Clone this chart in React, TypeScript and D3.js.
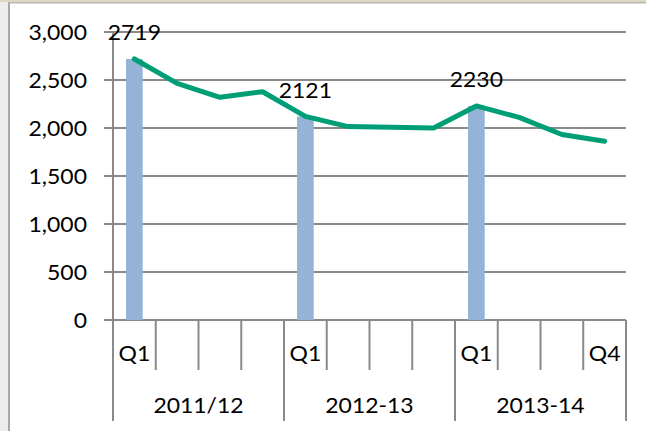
import React from "react";
import * as d3 from "d3";

const categories = ["Q1", "Q2", "Q3", "Q4", "Q1", "Q2", "Q3", "Q4", "Q1", "Q2", "Q3", "Q4"];
const quarterLabels = ["Q1", "", "", "", "Q1", "", "", "", "Q1", "", "", "Q4"];
const years = ["2011/12", "2012-13", "2013-14"];
const lineValues = [2719, 2465, 2320, 2378, 2121, 2015, 2008, 2000, 2230, 2110, 1932, 1862];
const barValues: (number | null)[] = [2719, null, null, null, 2121, null, null, null, 2230, null, null, null];
const yTicks = [0, 500, 1000, 1500, 2000, 2500, 3000];

const W = 646;
const H = 431;
const left = 113;
const right = 626;
const top = 32;
const bottom = 320;
const FONT = "Lato, 'Open Sans', sans-serif";
const FS = 20.5;
const SX = 1.12;
const GRID = "#8a8a8a";

function T({ x, y, children, anchor = "middle" }: any) {
  return (
    <text
      transform={`translate(${x},${y + 7.5}) scale(${SX},1)`}
      textAnchor={anchor}
      fontFamily={FONT}
      fontSize={FS}
      fill="#000"
    >
      {children}
    </text>
  );
}

export default function App() {
  const idx = categories.map((_, i) => i);
  const x = d3.scaleBand<number>().domain(idx).range([left, right]).padding(0);
  const y = d3.scaleLinear().domain([0, 3000]).range([bottom, top]);
  const bw = x.bandwidth();
  const barW = bw * 0.39;
  const cx = (i: number) => (x(i) as number) + bw / 2;
  const line = d3
    .line<number>()
    .x((_, i) => cx(i))
    .y((d) => y(d));
  const groupW = bw * 4;

  return (
    <svg
      width={W}
      height={H}
      style={{ position: "absolute", left: 0, top: 0, background: "#fff" }}
    >
      <rect x={0} y={0} width={W} height={H} fill="#fff" />
      <rect x={0} y={0} width={9} height={H} fill="#ededed" />
      <rect x={8} y={0} width={2} height={H} fill="#a8a8a8" />
      <rect x={0} y={0} width={W} height={2} fill="#dcd8c4" />
      <rect x={9} y={2} width={W} height={1.5} fill="#b8b8b8" />

      {yTicks.map((t) => (
        <g key={t}>
          <line x1={left - 9} x2={right} y1={y(t)} y2={y(t)} stroke={GRID} strokeWidth={2} />
          <T x={87} y={y(t)} anchor="end">
            {d3.format(",")(t)}
          </T>
        </g>
      ))}

      {barValues.map((v, i) =>
        v == null ? null : (
          <rect key={i} x={cx(i) - barW / 2} y={y(v)} width={barW} height={bottom - y(v)} fill="#95b3d7" />
        )
      )}

      <line x1={left} x2={left} y1={top} y2={421} stroke={GRID} strokeWidth={2} />

      {idx.slice(1).map((i) => {
        const xx = x(i) as number;
        const isGroup = i % 4 === 0;
        return <line key={i} x1={xx} x2={xx} y1={bottom} y2={isGroup ? 421 : 370} stroke={GRID} strokeWidth={2} />;
      })}
      <line x1={right} x2={right} y1={bottom} y2={421} stroke={GRID} strokeWidth={2} />

      <path d={line(lineValues) || ""} fill="none" stroke="#009e76" strokeWidth={5} strokeLinejoin="round" strokeLinecap="round" />

      {barValues.map((v, i) =>
        v == null ? null : (
          <T key={i} x={cx(i)} y={y(v) - 26}>
            {String(v)}
          </T>
        )
      )}

      {quarterLabels.map((q, i) =>
        q ? (
          <T key={i} x={cx(i)} y={353}>
            {q}
          </T>
        ) : null
      )}

      {years.map((yr, g) => (
        <T key={yr} x={left + groupW * g + groupW / 2} y={405}>
          {yr}
        </T>
      ))}
    </svg>
  );
}
